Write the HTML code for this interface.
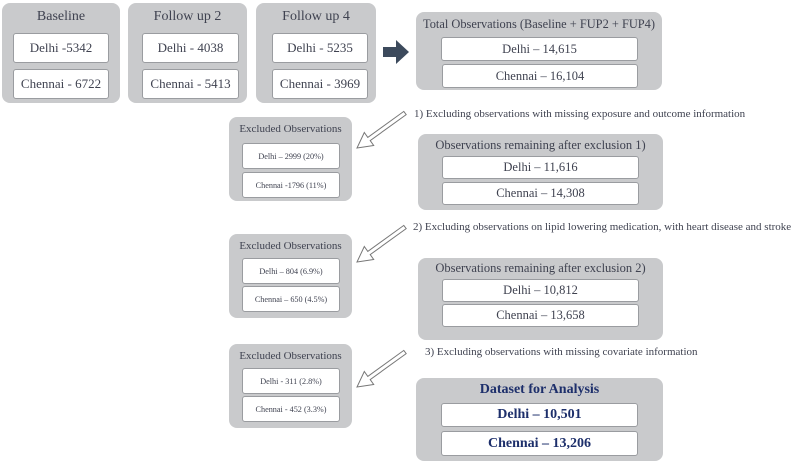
<!DOCTYPE html>
<html><head><style>
body{margin:0;width:800px;height:461px;background:#fff;position:relative;font-family:"Liberation Serif",serif;color:#3f4250;overflow:hidden}
.g{position:absolute;background:#c9cacc;border-radius:8px}
.w{position:absolute;background:#fff;border:1px solid #9a9ca0;border-radius:3px;box-sizing:border-box;display:flex;align-items:center;justify-content:center;white-space:nowrap}
.t{position:absolute;text-align:center;white-space:nowrap}
.l{position:absolute;white-space:nowrap;font-size:11px;color:#3f4250}
.b{font-weight:bold;color:#1d2f6b}
.m{font-size:12.5px}
.s{font-size:8.2px}
.e{font-size:11px}
</style></head><body>
<div class="g" style="left:2px;top:3px;width:118px;height:100px"></div>
<div class="t" style="left:2px;top:9px;width:118px;font-size:14px">Baseline</div>
<div class="w" style="left:13px;top:33px;width:96px;height:30px;font-size:13px">Delhi -5342</div>
<div class="w" style="left:13px;top:69px;width:96px;height:30px;font-size:13px">Chennai - 6722</div>

<div class="g" style="left:128px;top:3px;width:119px;height:100px"></div>
<div class="t" style="left:128px;top:9px;width:119px;font-size:14px">Follow up 2</div>
<div class="w" style="left:142px;top:33px;width:97px;height:30px;font-size:13px">Delhi - 4038</div>
<div class="w" style="left:142px;top:69px;width:97px;height:30px;font-size:13px">Chennai - 5413</div>

<div class="g" style="left:256px;top:3px;width:120px;height:100px"></div>
<div class="t" style="left:256px;top:9px;width:120px;font-size:14px">Follow up 4</div>
<div class="w" style="left:272px;top:33px;width:96px;height:30px;font-size:13px">Delhi - 5235</div>
<div class="w" style="left:272px;top:69px;width:96px;height:30px;font-size:13px">Chennai - 3969</div>

<svg style="position:absolute;left:0;top:0" width="800" height="461">
<polygon points="383,47 396,47 396,40 409,52 396,64 396,57 383,57" fill="#3c4a5c"/>
<g fill="#fff" stroke="#777" stroke-width="1" id="a">
<polygon points="406.2,114.6 370.2,140.6 373.7,145.5 357,148 364.3,132.5 367.8,137.4 403.8,111.4"/>
<polygon transform="translate(0,114)" points="406.2,114.6 370.2,140.6 373.7,145.5 357,148 364.3,132.5 367.8,137.4 403.8,111.4"/>
<polygon transform="translate(0,239)" points="406.2,114.6 370.2,140.6 373.7,145.5 357,148 364.3,132.5 367.8,137.4 403.8,111.4"/>
</g>
</svg>

<div class="g" style="left:416px;top:12px;width:246px;height:78px"></div>
<div class="t" style="left:416px;top:17px;width:246px;font-size:12.4px">Total Observations (Baseline + FUP2 + FUP4)</div>
<div class="w m" style="left:441px;top:37px;width:197px;height:24px">Delhi – 14,615</div>
<div class="w m" style="left:442px;top:64px;width:196px;height:24px">Chennai – 16,104</div>

<div class="l" style="left:414px;top:108px">1) Excluding observations with missing exposure and outcome information</div>

<div class="g" style="left:229px;top:117px;width:123px;height:84px"></div>
<div class="t e" style="left:229px;top:123px;width:123px">Excluded Observations</div>
<div class="w s" style="left:242px;top:143px;width:98px;height:26px">Delhi – 2999 (20%)</div>
<div class="w s" style="left:242px;top:172px;width:98px;height:26px">Chennai -1796 (11%)</div>

<div class="g" style="left:418px;top:134px;width:245px;height:76px"></div>
<div class="t m" style="left:418px;top:138px;width:245px">Observations remaining after exclusion 1)</div>
<div class="w m" style="left:442px;top:156px;width:197px;height:23px">Delhi – 11,616</div>
<div class="w m" style="left:442px;top:182px;width:197px;height:23px">Chennai – 14,308</div>

<div class="l" style="left:413px;top:221px">2) Excluding observations on lipid lowering medication, with heart disease and stroke</div>

<div class="g" style="left:229px;top:234px;width:123px;height:84px"></div>
<div class="t e" style="left:229px;top:240px;width:123px">Excluded Observations</div>
<div class="w s" style="left:242px;top:258px;width:98px;height:26px">Delhi – 804 (6.9%)</div>
<div class="w s" style="left:242px;top:286px;width:98px;height:26px">Chennai – 650 (4.5%)</div>

<div class="g" style="left:418px;top:258px;width:245px;height:82px"></div>
<div class="t m" style="left:418px;top:261px;width:245px">Observations remaining after exclusion 2)</div>
<div class="w m" style="left:442px;top:279px;width:197px;height:23px">Delhi – 10,812</div>
<div class="w m" style="left:442px;top:304px;width:197px;height:23px">Chennai – 13,658</div>

<div class="l" style="left:425px;top:346px">3) Excluding observations with missing covariate information</div>

<div class="g" style="left:229px;top:344px;width:123px;height:84px"></div>
<div class="t e" style="left:229px;top:350px;width:123px">Excluded Observations</div>
<div class="w s" style="left:242px;top:368px;width:98px;height:26px">Delhi - 311 (2.8%)</div>
<div class="w s" style="left:242px;top:396px;width:98px;height:26px">Chennai - 452 (3.3%)</div>

<div class="g" style="left:416px;top:378px;width:247px;height:83px"></div>
<div class="t b" style="left:416px;top:382px;width:247px;font-size:14px">Dataset for Analysis</div>
<div class="w b" style="left:441px;top:403px;width:197px;height:24px;font-size:14px">Delhi – 10,501</div>
<div class="w b" style="left:441px;top:431px;width:197px;height:25px;font-size:14px">Chennai – 13,206</div>
</body></html>
